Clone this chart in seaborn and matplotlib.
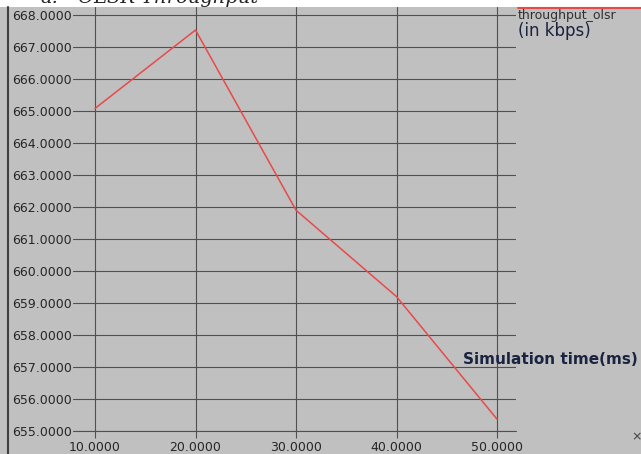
import numpy as np
import pandas as pd
import seaborn as sns
import matplotlib.pyplot as plt
from matplotlib.lines import Line2D
from matplotlib.patches import Rectangle

sim_time = [10, 20, 30, 40, 50]
throughput = [665.08, 667.53, 661.90, 659.20, 655.37]
x_ticks = [10, 20, 30, 40, 50]
y_ticks = list(range(655, 669))

df = pd.DataFrame({'time': sim_time, 'throughput': throughput})

sns.set_style('white')
plt.rcParams['font.family'] = ['DejaVu Sans']

W, H = 641, 454
fig = plt.figure(figsize=(W / 100, H / 100), dpi=100)
fig.patch.set_facecolor('#c0c0c0')

# white strip with the cut-off caption
fig.patches.append(Rectangle((0, 1 - 7 / H), 1, 7 / H, transform=fig.transFigure,
                             facecolor='white', edgecolor='none', zorder=0))
fig.text(40 / W, 1 + 2 / H, 'a.', fontsize=14, family='DejaVu Serif', style='italic',
         va='center', ha='left', color='#222222')
fig.text(78 / W, 1 + 2 / H, 'OLSR Throughput', fontsize=14, family='DejaVu Serif',
         style='italic', va='center', ha='left', color='#222222')

# dark left border
fig.add_artist(Line2D([8 / W, 8 / W], [0, 1 - 7 / H], transform=fig.transFigure,
                      color='#404040', lw=1.5))

ax = fig.add_axes([73 / W, (H - 431) / H, (516 - 73) / W, (431 - 7) / H])
ax.set_facecolor('#c0c0c0')

sns.lineplot(data=df, x='time', y='throughput', ax=ax, color='#e84a4a', lw=1.1, zorder=3)

ax.set_xlim(10 - 22 / 10.05, 10 + 421 / 10.05)
ax.set_ylim(655, 668.25)
ax.set_xticks(x_ticks)
ax.set_xticklabels([f'{v:.4f}' for v in x_ticks])
ax.set_yticks(y_ticks)
ax.set_yticklabels([f'{v:.4f}' for v in y_ticks])
ax.grid(True, color='#505050', lw=0.8)
for s in ax.spines.values():
    s.set_visible(False)
ax.tick_params(axis='x', direction='out', length=5, width=0.8, color='#505050',
               pad=2, labelsize=9, labelcolor='#262626', bottom=True)
ax.tick_params(axis='y', length=0, pad=1, labelsize=9, labelcolor='#262626', left=True)
ax.set_xlabel('')
ax.set_ylabel('')
ax.axhline(655, color='#505050', lw=0.8, clip_on=False)

# legend / annotations on the right
fig.add_artist(Line2D([518 / W, 1], [1 - 8 / H, 1 - 8 / H], transform=fig.transFigure,
                      color='#e84a4a', lw=1.5))
fig.text(518 / W, 1 - 16 / H, 'throughput_olsr', fontsize=9, color='#303030',
         va='center', ha='left')
fig.text(518 / W, 1 - 31 / H, '(in kbps)', fontsize=12, color='#1a2340',
         va='center', ha='left')
fig.text(463 / W, 1 - 360 / H, 'Simulation time(ms)', fontsize=11, weight='bold',
         color='#1a2340', va='center', ha='left')
fig.text(631 / W, 1 - 437 / H, '×', fontsize=9, color='#404040', va='center', ha='left')

plt.savefig('out.png', dpi=100, facecolor=fig.get_facecolor())
